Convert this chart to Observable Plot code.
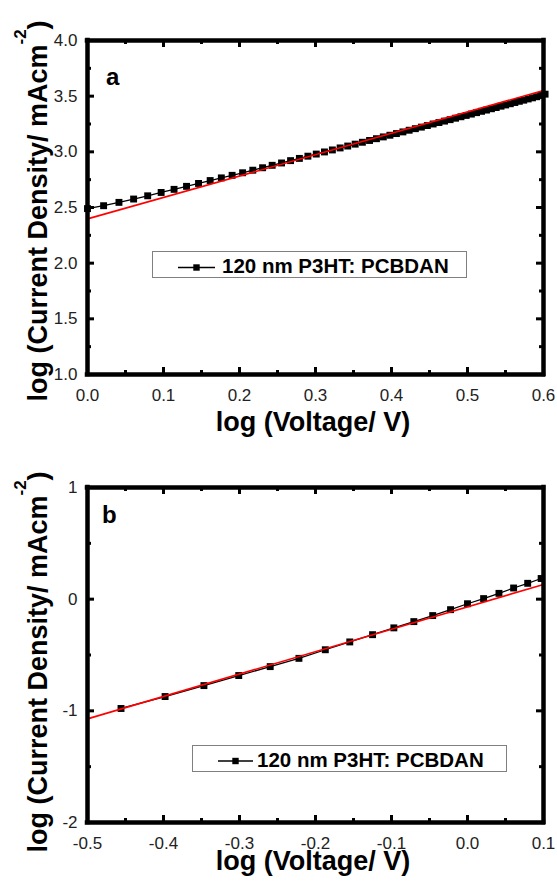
<!DOCTYPE html>
<html><head><meta charset="utf-8">
<script src="https://cdn.jsdelivr.net/npm/d3@7"></script>
<script src="https://cdn.jsdelivr.net/npm/@observablehq/plot@0.6"></script>
<style>
html,body{margin:0;padding:0;background:#fff;}
#chart{width:557px;}
#chart svg{display:block;}
</style></head><body><div id="chart"></div>
<script>
// ---- Panel a data (log V, log J) ----
const logVoltageA = [0.0000,0.0212,0.0414,0.0607,0.0792,0.0969,0.1139,0.1303,0.1461,0.1614,0.1761,0.1903,0.2041,0.2175,0.2304,0.2430,0.2553,0.2672,0.2788,0.2900,0.3010,0.3118,0.3222,0.3324,0.3424,0.3522,0.3617,0.3711,0.3802,0.3892,0.3979,0.4065,0.4150,0.4232,0.4314,0.4393,0.4472,0.4548,0.4624,0.4698,0.4771,0.4843,0.4914,0.4983,0.5051,0.5119,0.5185,0.5250,0.5315,0.5378,0.5441,0.5502,0.5563,0.5623,0.5682,0.5740,0.5798,0.5855,0.5911,0.5966,0.6021];
const logCurrentA = [2.490,2.516,2.546,2.576,2.605,2.635,2.663,2.690,2.716,2.742,2.766,2.789,2.812,2.835,2.857,2.879,2.900,2.921,2.941,2.961,2.980,2.999,3.017,3.035,3.052,3.069,3.086,3.102,3.118,3.134,3.149,3.164,3.179,3.194,3.208,3.222,3.236,3.250,3.263,3.276,3.289,3.302,3.315,3.327,3.339,3.352,3.364,3.375,3.387,3.398,3.410,3.421,3.432,3.443,3.454,3.464,3.475,3.485,3.495,3.506,3.518];
const fitLogVoltageA = [0, 0.6];
const fitLogCurrentA = [2.398, 3.551];

// ---- Panel b data ----
const logVoltageB = [-0.4559,-0.3979,-0.3468,-0.3010,-0.2596,-0.2218,-0.1871,-0.1549,-0.1249,-0.0969,-0.0706,-0.0458,-0.0223,0.0000,0.0212,0.0414,0.0607,0.0792,0.0969];
const logCurrentB = [-0.979,-0.872,-0.774,-0.684,-0.604,-0.530,-0.453,-0.383,-0.318,-0.257,-0.201,-0.147,-0.094,-0.041,0.005,0.052,0.100,0.142,0.185];
const fitLogVoltageB = [-0.5, 0.1];
const fitLogCurrentB = [-1.072, 0.132];

// ---- ticks ----
const xMajorA = [0, 0.1, 0.2, 0.3, 0.4, 0.5, 0.6];
const xMinorA = [0.05, 0.15, 0.25, 0.35, 0.45, 0.55];
const yMajorA = [1.0, 1.5, 2.0, 2.5, 3.0, 3.5, 4.0];
const yMinorA = [1.25, 1.75, 2.25, 2.75, 3.25, 3.75];
const xMajorB = [-0.5, -0.4, -0.3, -0.2, -0.1, 0.0, 0.1];
const xMinorB = [-0.45, -0.35, -0.25, -0.15, -0.05, 0.05];
const yMajorB = [-2, -1, 0, 1];
const yMinorB = [-1.5, -0.5, 0.5];

// ---- texts ----
const seriesLabel = "120 nm P3HT: PCBDAN";
const xTitle = "log (Voltage/ V)";
const yTitleMain = "log (Current Density/ mAcm";
const yTitleSup = "-2";
const yTitleEnd = ")";
const panelLetters = ["a", "b"];

const FONT = "Arial, 'Liberation Sans', Helvetica, sans-serif";
const W = 557, ML = 87, MR = 14;

function panel(o) {
  const ph = o.height - o.mt - o.mb, pw = W - ML - MR;
  const ky = ph / (o.yDom[1] - o.yDom[0]);
  const kx = pw / (o.xDom[1] - o.xDom[0]);
  const pts = o.xs.map((x, i) => ({x, y: o.ys[i]}));
  const fit = o.fx.map((x, i) => ({x, y: o.fy[i]}));
  const tick = {stroke: "black", strokeWidth: 3};
  const xTicks = (vals, len) => [
    Plot.ruleX(vals, {x: d => d, y1: () => o.yDom[0], y2: () => o.yDom[0] + len / ky, ...tick}),
    Plot.ruleX(vals, {x: d => d, y1: () => o.yDom[1] - len / ky, y2: () => o.yDom[1], ...tick})
  ];
  const yTicks = (vals, len) => [
    Plot.ruleY(vals, {y: d => d, x1: () => o.xDom[0], x2: () => o.xDom[0] + len / kx, ...tick}),
    Plot.ruleY(vals, {y: d => d, x1: () => o.xDom[1] - len / kx, x2: () => o.xDom[1], ...tick})
  ];
  const edge = {stroke: "black", strokeWidth: 4.5, strokeLinecap: "square"};
  const svg = Plot.plot({
    width: W, height: o.height,
    marginLeft: ML, marginRight: MR, marginTop: o.mt, marginBottom: o.mb,
    x: {domain: o.xDom, label: null},
    y: {domain: o.yDom, label: null},
    style: {fontFamily: FONT, fontSize: "17px", background: "white", color: "black"},
    marks: [
      Plot.axisX({ticks: o.xMaj, tickSize: 0, tickPadding: 14, tickFormat: o.xfmt, fontSize: 17, fill: "#222", label: null}),
      Plot.axisY({ticks: o.yMaj, tickSize: 0, tickPadding: 10, tickFormat: o.yfmt, fontSize: 17, fill: "#222", label: null}),
      Plot.line(pts, {x: "x", y: "y", stroke: "black", strokeWidth: 1.3}),
      Plot.dot(pts, {x: "x", y: "y", symbol: "square", r: 3.9, fill: "black", stroke: "none"}),
      Plot.line(fit, {x: "x", y: "y", stroke: "#ff0000", strokeWidth: 1.6}),
      ...xTicks(o.xMaj, 7), ...xTicks(o.xMin, 4),
      ...yTicks(o.yMaj, 7), ...yTicks(o.yMin, 4),
      Plot.ruleX(o.xDom, {x: d => d, y1: () => o.yDom[0], y2: () => o.yDom[1], ...edge}),
      Plot.ruleY(o.yDom, {y: d => d, x1: () => o.xDom[0], x2: () => o.xDom[1], ...edge})
    ]
  });
  const s = d3.select(svg);
  // x title
  s.append("text").attr("x", 313).attr("y", o.xTitleY).attr("text-anchor", "middle")
    .attr("font-family", FONT).attr("font-size", 27).attr("font-weight", "bold").attr("fill", "black")
    .text(xTitle);
  // y title
  const yt = s.append("text").attr("transform", `translate(47,${o.yTitleC}) rotate(-90)`)
    .attr("text-anchor", "middle").attr("font-family", FONT).attr("font-size", 27)
    .attr("font-weight", "bold").attr("fill", "black");
  yt.append("tspan").text(yTitleMain);
  yt.append("tspan").attr("dy", -21).attr("font-size", 17).text(yTitleSup);
  yt.append("tspan").attr("dy", 21).text(yTitleEnd);
  // panel letter
  s.append("text").attr("x", o.letterX).attr("y", o.letterY).attr("text-anchor", "start")
    .attr("font-family", FONT).attr("font-size", 24).attr("font-weight", "bold").attr("fill", "black").text(o.letter);
  // legend
  const L = o.legend;
  s.append("rect").attr("x", L.bx).attr("y", L.by).attr("width", L.bw).attr("height", L.bh)
    .attr("fill", "white").attr("stroke", "#808080").attr("stroke-width", 1);
  s.append("line").attr("x1", L.lx1).attr("x2", L.lx2).attr("y1", L.ly).attr("y2", L.ly)
    .attr("stroke", "black").attr("stroke-width", 1.3);
  s.append("rect").attr("x", (L.lx1 + L.lx2) / 2 - 3.2).attr("y", L.ly - 3.2).attr("width", 6.4).attr("height", 6.4).attr("fill", "black");
  s.append("text").attr("x", L.tx).attr("y", L.ty).attr("text-anchor", "start").attr("font-family", FONT).attr("font-size", 20.5)
    .attr("font-weight", "bold").attr("fill", "black").text(seriesLabel);
  return svg;
}

const fmt1 = d => d.toFixed(1);
const fmt0 = d => String(d);

const chart = document.getElementById("chart");
chart.appendChild(panel({
  xs: logVoltageA, ys: logCurrentA, fx: fitLogVoltageA, fy: fitLogCurrentA,
  xDom: [0, 0.6], yDom: [1, 4], xMaj: xMajorA, xMin: xMinorA, yMaj: yMajorA, yMin: yMinorA,
  height: 440, mt: 40, mb: 66, xfmt: fmt1, yfmt: fmt1,
  xTitleY: 431, yTitleC: 211, letter: panelLetters[0], letterX: 106, letterY: 85,
  legend: {bx: 152.5, by: 251.5, bw: 314, bh: 26, lx1: 178, lx2: 215, ly: 267.5, tx: 222, ty: 273}
}));
chart.appendChild(panel({
  xs: logVoltageB, ys: logCurrentB, fx: fitLogVoltageB, fy: fitLogCurrentB,
  xDom: [-0.5, 0.1], yDom: [-2, 1], xMaj: xMajorB, xMin: xMinorB, yMaj: yMajorB, yMin: yMinorB,
  height: 441, mt: 47, mb: 59, xfmt: fmt1, yfmt: fmt0,
  xTitleY: 430, yTitleC: 222, letter: panelLetters[1], letterX: 102, letterY: 83,
  legend: {bx: 192.5, by: 305.5, bw: 314, bh: 26, lx1: 218, lx2: 253, ly: 321, tx: 257, ty: 326.5}
}));
</script></body></html>
